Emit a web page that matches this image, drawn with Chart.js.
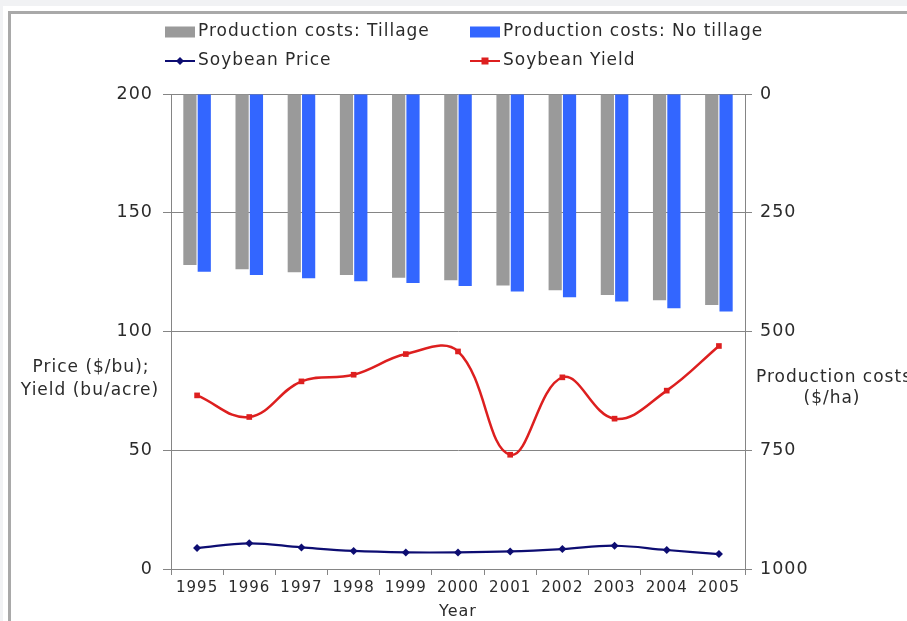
<!DOCTYPE html>
<html><head><meta charset="utf-8">
<script src="https://cdn.jsdelivr.net/npm/chart.js@4/dist/chart.umd.min.js"></script>
<style>
html,body{margin:0;padding:0;background:#f1f2f4;overflow:hidden;width:907px;height:621px}
#outer{position:absolute;left:3px;top:6px;width:1000px;height:1000px;background:#fff}
#frame{position:absolute;left:8px;top:11px;width:1000px;height:1000px;border:3px solid #a9a9a9;box-sizing:border-box}
#wrap{position:absolute;left:0;top:0;width:907px;height:621px}
</style></head><body>
<div id="outer"></div><div id="frame"></div>
<div id="wrap"><canvas id="c"></canvas></div>
<script>
const years = ['1995','1996','1997','1998','1999','2000','2001','2002','2003','2004','2005'];
const costTillage   = [360,369,375,381,387,392,403,413,423,434,444];
const costNoTillage = [374,381,388,394,398,404,416,428,437,451,458];
const soyPrice = [8.8,10.8,9.1,7.6,7.0,7.0,7.4,8.4,9.8,8.0,6.3];
const soyYield = [73.1,64.0,79.0,81.8,90.5,91.6,48.1,80.7,63.3,75.1,93.9];
const leftTicks  = [0,50,100,150,200];
const rightTicks = [0,250,500,750,1000];

const FONT = '"DejaVu Sans", Verdana, sans-serif';
const TXT = '#2b2b2b';
const GRID = '#858585';

const spacing = {
  id: 'spacing',
  beforeDraw(chart) { chart.ctx.letterSpacing = '1px'; }
};

const overlay = {
  id: 'overlay',
  afterDraw(chart) {
    const ctx = chart.ctx;
    const ds = chart.data.datasets;
    ctx.save();
    ctx.letterSpacing = '1px';
    ctx.font = '17px ' + FONT;
    ctx.fillStyle = TXT;
    ctx.textBaseline = 'middle';
    const items = [
      {d: ds[0], x: 165, y: 32, t: 'box'},
      {d: ds[1], x: 470, y: 32, t: 'box'},
      {d: ds[2], x: 165, y: 61, t: 'line'},
      {d: ds[3], x: 470, y: 61, t: 'line'}
    ];
    items.forEach(it => {
      if (it.t === 'box') {
        ctx.fillStyle = it.d.backgroundColor;
        ctx.fillRect(it.x, it.y - 5.5, 30, 11);
      } else {
        ctx.strokeStyle = it.d.borderColor;
        ctx.lineWidth = 2;
        ctx.beginPath(); ctx.moveTo(it.x, it.y); ctx.lineTo(it.x + 30, it.y); ctx.stroke();
        ctx.fillStyle = it.d.borderColor;
        const cx = it.x + 15, r = 4;
        if (it.d.pointStyle === 'rect') {
          ctx.fillRect(cx - 3.5, it.y - 3.5, 7, 7);
        } else {
          ctx.beginPath(); ctx.moveTo(cx, it.y - r); ctx.lineTo(cx + r, it.y); ctx.lineTo(cx, it.y + r); ctx.lineTo(cx - r, it.y); ctx.closePath(); ctx.fill();
        }
      }
      ctx.fillStyle = TXT;
      ctx.textAlign = 'left';
      ctx.fillText(it.d.label, it.x + 33, it.y);
    });
    // axis titles (horizontal)
    ctx.textAlign = 'center';
    ctx.font = '17px ' + FONT;
    ctx.fillText('Price ($/bu);', 91, 368);
    ctx.fillText('Yield (bu/acre)', 90, 391);
    ctx.fillText('Production costs', 834, 378);
    ctx.fillText('($/ha)', 832, 399);
    ctx.restore();
  }
};

new Chart(document.getElementById('c'), {
  data: {
    labels: years,
    datasets: [
      {type: 'bar', label: 'Production costs: Tillage', data: costTillage, yAxisID: 'y2',
       backgroundColor: '#9a9a9a', order: 2, categoryPercentage: 0.55, barPercentage: 0.92},
      {type: 'bar', label: 'Production costs: No tillage', data: costNoTillage, yAxisID: 'y2',
       backgroundColor: '#3366ff', order: 2, categoryPercentage: 0.55, barPercentage: 0.92},
      {type: 'line', label: 'Soybean Price', data: soyPrice, yAxisID: 'y',
       borderColor: '#0d0d72', backgroundColor: '#0d0d72', borderWidth: 2.2, tension: 0.4,
       pointStyle: 'rectRot', pointRadius: 4, pointBorderWidth: 0, order: 0},
      {type: 'line', label: 'Soybean Yield', data: soyYield, yAxisID: 'y',
       borderColor: '#dd1f1f', backgroundColor: '#dd1f1f', borderWidth: 2.5, tension: 0.4,
       pointStyle: 'rect', pointRadius: 4, pointBorderWidth: 0, order: 0}
    ]
  },
  options: {
    responsive: true,
    maintainAspectRatio: false,
    animation: false,
    layout: {padding: {top: 94, left: 0, right: 0, bottom: 0}},
    plugins: {legend: {display: false}, tooltip: {enabled: false}, title: {display: false}},
    scales: {
      x: {
        type: 'category', offset: true,
        grid: {offset: true, drawOnChartArea: false, color: GRID, tickLength: 6},
        border: {color: GRID, width: 1},
        ticks: {color: TXT, font: {family: FONT, size: 15}, padding: 4, maxRotation: 0, autoSkip: false},
        title: {display: true, text: 'Year', color: TXT, font: {family: FONT, size: 16}, padding: {top: 0, bottom: 0}},
        afterFit: s => { s.height = 52; }
      },
      y: {
        position: 'left', min: 0, max: 200,
        afterBuildTicks: s => { s.ticks = leftTicks.map(v => ({value: v})); },
        grid: {color: GRID, tickLength: 8},
        border: {color: GRID, width: 1},
        ticks: {color: TXT, font: {family: FONT, size: 17.5}, padding: 10, callback: v => String(v)},
        afterFit: s => { s.width = 171; }
      },
      y2: {
        position: 'right', min: 0, max: 1000, reverse: true,
        afterBuildTicks: s => { s.ticks = rightTicks.map(v => ({value: v})); },
        grid: {drawOnChartArea: false, color: GRID, tickLength: 7},
        border: {color: GRID, width: 1},
        ticks: {color: TXT, font: {family: FONT, size: 17.5}, padding: 8, callback: v => String(v)},
        afterFit: s => { s.width = 162; }
      }
    }
  },
  plugins: [spacing, overlay]
});
</script>
</body></html>
